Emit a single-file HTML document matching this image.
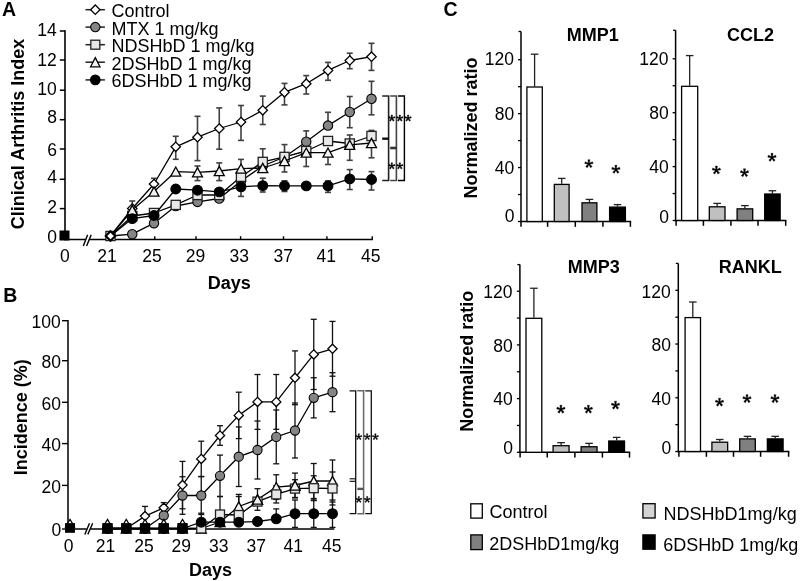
<!DOCTYPE html>
<html><head><meta charset="utf-8"><style>
html,body{margin:0;padding:0;background:#fff;}
svg{display:block;will-change:transform;}
text{font-family:"Liberation Sans", sans-serif;fill:#000;}
</style></head><body>
<svg width="800" height="581" viewBox="0 0 800 581">
<rect width="800" height="581" fill="#fff"/>
<text transform="translate(2.10,16.30)" font-size="19.5" font-weight="bold" text-anchor="start">A</text>
<line x1="65.00" y1="30.20" x2="65.00" y2="240.30" stroke="#000" stroke-width="1.6" stroke-linecap="butt"/>
<line x1="59.80" y1="31.00" x2="65.00" y2="31.00" stroke="#000" stroke-width="1.5" stroke-linecap="butt"/>
<text transform="translate(37.30,35.95)" font-size="17.5" font-weight="normal" text-anchor="start">14</text>
<line x1="59.80" y1="60.00" x2="65.00" y2="60.00" stroke="#000" stroke-width="1.5" stroke-linecap="butt"/>
<text transform="translate(37.30,66.00)" font-size="17.5" font-weight="normal" text-anchor="start">12</text>
<line x1="59.80" y1="90.20" x2="65.00" y2="90.20" stroke="#000" stroke-width="1.5" stroke-linecap="butt"/>
<text transform="translate(37.30,95.30)" font-size="17.5" font-weight="normal" text-anchor="start">10</text>
<line x1="59.80" y1="119.70" x2="65.00" y2="119.70" stroke="#000" stroke-width="1.5" stroke-linecap="butt"/>
<text transform="translate(47.30,123.45)" font-size="17.5" font-weight="normal" text-anchor="start">8</text>
<line x1="59.80" y1="149.00" x2="65.00" y2="149.00" stroke="#000" stroke-width="1.5" stroke-linecap="butt"/>
<text transform="translate(47.30,155.65)" font-size="17.5" font-weight="normal" text-anchor="start">6</text>
<line x1="59.80" y1="179.30" x2="65.00" y2="179.30" stroke="#000" stroke-width="1.5" stroke-linecap="butt"/>
<text transform="translate(47.30,182.80)" font-size="17.5" font-weight="normal" text-anchor="start">4</text>
<line x1="59.80" y1="208.60" x2="65.00" y2="208.60" stroke="#000" stroke-width="1.5" stroke-linecap="butt"/>
<text transform="translate(47.30,212.80)" font-size="17.5" font-weight="normal" text-anchor="start">2</text>
<line x1="59.80" y1="238.30" x2="65.00" y2="238.30" stroke="#000" stroke-width="1.5" stroke-linecap="butt"/>
<text transform="translate(47.30,243.10)" font-size="17.5" font-weight="normal" text-anchor="start">0</text>
<line x1="64.30" y1="239.50" x2="85.90" y2="239.50" stroke="#000" stroke-width="1.5" stroke-linecap="butt"/>
<line x1="88.90" y1="239.50" x2="372.80" y2="239.50" stroke="#000" stroke-width="1.5" stroke-linecap="butt"/>
<line x1="87.60" y1="234.70" x2="83.30" y2="246.00" stroke="#000" stroke-width="1.4" stroke-linecap="butt"/>
<line x1="91.20" y1="234.70" x2="86.60" y2="246.00" stroke="#000" stroke-width="1.4" stroke-linecap="butt"/>
<line x1="154.75" y1="236.20" x2="154.75" y2="239.50" stroke="#000" stroke-width="1.4" stroke-linecap="butt"/>
<line x1="196.00" y1="236.20" x2="196.00" y2="239.50" stroke="#000" stroke-width="1.4" stroke-linecap="butt"/>
<line x1="240.60" y1="236.20" x2="240.60" y2="239.50" stroke="#000" stroke-width="1.4" stroke-linecap="butt"/>
<line x1="283.50" y1="236.20" x2="283.50" y2="239.50" stroke="#000" stroke-width="1.4" stroke-linecap="butt"/>
<line x1="326.90" y1="236.20" x2="326.90" y2="239.50" stroke="#000" stroke-width="1.4" stroke-linecap="butt"/>
<line x1="372.25" y1="236.20" x2="372.25" y2="239.50" stroke="#000" stroke-width="1.4" stroke-linecap="butt"/>
<text transform="translate(59.90,261.70)" font-size="17.5" font-weight="normal" text-anchor="start">0</text>
<text transform="translate(97.25,261.70)" font-size="17.5" font-weight="normal" text-anchor="start">21</text>
<text transform="translate(142.30,261.70)" font-size="17.5" font-weight="normal" text-anchor="start">25</text>
<text transform="translate(185.80,261.70)" font-size="17.5" font-weight="normal" text-anchor="start">29</text>
<text transform="translate(229.50,261.70)" font-size="17.5" font-weight="normal" text-anchor="start">33</text>
<text transform="translate(273.40,261.70)" font-size="17.5" font-weight="normal" text-anchor="start">37</text>
<text transform="translate(316.55,261.70)" font-size="17.5" font-weight="normal" text-anchor="start">41</text>
<text transform="translate(361.10,261.70)" font-size="17.5" font-weight="normal" text-anchor="start">45</text>
<text transform="translate(207.80,288.70)" font-size="18" font-weight="bold" text-anchor="start">Days</text>
<text transform="translate(24.30,229.20) rotate(-90)" font-size="18" font-weight="bold" text-anchor="start">Clinical Arthritis Index</text>
<polyline points="110.50,236.00 132.25,234.20 154.00,223.20 175.75,206.00 197.50,201.90 219.25,198.50 241.00,181.00 262.75,166.00 284.50,157.00 306.25,141.70 328.00,125.60 349.75,112.00 371.50,98.80" stroke="#000" stroke-width="1.3" fill="none" stroke-linejoin="round" />
<line x1="306.25" y1="130.90" x2="306.25" y2="141.70" stroke="#404040" stroke-width="1.6" stroke-linecap="butt"/>
<line x1="303.25" y1="130.90" x2="309.25" y2="130.90" stroke="#404040" stroke-width="1.6" stroke-linecap="butt"/>
<line x1="303.25" y1="141.70" x2="309.25" y2="141.70" stroke="#404040" stroke-width="1.6" stroke-linecap="butt"/>
<line x1="328.00" y1="112.30" x2="328.00" y2="125.60" stroke="#404040" stroke-width="1.6" stroke-linecap="butt"/>
<line x1="325.00" y1="112.30" x2="331.00" y2="112.30" stroke="#404040" stroke-width="1.6" stroke-linecap="butt"/>
<line x1="325.00" y1="125.60" x2="331.00" y2="125.60" stroke="#404040" stroke-width="1.6" stroke-linecap="butt"/>
<line x1="349.75" y1="96.50" x2="349.75" y2="127.70" stroke="#404040" stroke-width="1.6" stroke-linecap="butt"/>
<line x1="346.75" y1="96.50" x2="352.75" y2="96.50" stroke="#404040" stroke-width="1.6" stroke-linecap="butt"/>
<line x1="346.75" y1="127.70" x2="352.75" y2="127.70" stroke="#404040" stroke-width="1.6" stroke-linecap="butt"/>
<line x1="371.50" y1="81.30" x2="371.50" y2="114.80" stroke="#404040" stroke-width="1.6" stroke-linecap="butt"/>
<line x1="368.50" y1="81.30" x2="374.50" y2="81.30" stroke="#404040" stroke-width="1.6" stroke-linecap="butt"/>
<line x1="368.50" y1="114.80" x2="374.50" y2="114.80" stroke="#404040" stroke-width="1.6" stroke-linecap="butt"/>
<circle cx="132.25" cy="234.20" r="4.7" fill="#858585" stroke="#000" stroke-width="1.1"/>
<circle cx="154.00" cy="223.20" r="4.7" fill="#858585" stroke="#000" stroke-width="1.1"/>
<circle cx="175.75" cy="206.00" r="4.7" fill="#858585" stroke="#000" stroke-width="1.1"/>
<circle cx="197.50" cy="201.90" r="4.7" fill="#858585" stroke="#000" stroke-width="1.1"/>
<circle cx="219.25" cy="198.50" r="4.7" fill="#858585" stroke="#000" stroke-width="1.1"/>
<circle cx="241.00" cy="181.00" r="4.7" fill="#858585" stroke="#000" stroke-width="1.1"/>
<circle cx="262.75" cy="166.00" r="4.7" fill="#858585" stroke="#000" stroke-width="1.1"/>
<circle cx="284.50" cy="157.00" r="4.7" fill="#858585" stroke="#000" stroke-width="1.1"/>
<circle cx="306.25" cy="141.70" r="4.7" fill="#858585" stroke="#000" stroke-width="1.1"/>
<circle cx="328.00" cy="125.60" r="4.7" fill="#858585" stroke="#000" stroke-width="1.1"/>
<circle cx="349.75" cy="112.00" r="4.7" fill="#858585" stroke="#000" stroke-width="1.1"/>
<circle cx="371.50" cy="98.80" r="4.7" fill="#858585" stroke="#000" stroke-width="1.1"/>
<polyline points="110.50,236.00 132.25,216.00 154.00,213.00 175.75,204.90 197.50,195.00 219.25,195.00 241.00,176.80 262.75,161.90 284.50,156.90 306.25,151.00 328.00,141.00 349.75,143.50 371.50,136.00" stroke="#000" stroke-width="1.3" fill="none" stroke-linejoin="round" />
<line x1="262.75" y1="148.80" x2="262.75" y2="161.90" stroke="#404040" stroke-width="1.6" stroke-linecap="butt"/>
<line x1="259.75" y1="148.80" x2="265.75" y2="148.80" stroke="#404040" stroke-width="1.6" stroke-linecap="butt"/>
<line x1="259.75" y1="161.90" x2="265.75" y2="161.90" stroke="#404040" stroke-width="1.6" stroke-linecap="butt"/>
<line x1="284.50" y1="144.60" x2="284.50" y2="156.90" stroke="#404040" stroke-width="1.6" stroke-linecap="butt"/>
<line x1="281.50" y1="144.60" x2="287.50" y2="144.60" stroke="#404040" stroke-width="1.6" stroke-linecap="butt"/>
<line x1="281.50" y1="156.90" x2="287.50" y2="156.90" stroke="#404040" stroke-width="1.6" stroke-linecap="butt"/>
<line x1="349.75" y1="135.00" x2="349.75" y2="143.50" stroke="#404040" stroke-width="1.6" stroke-linecap="butt"/>
<line x1="346.75" y1="135.00" x2="352.75" y2="135.00" stroke="#404040" stroke-width="1.6" stroke-linecap="butt"/>
<line x1="346.75" y1="143.50" x2="352.75" y2="143.50" stroke="#404040" stroke-width="1.6" stroke-linecap="butt"/>
<line x1="371.50" y1="130.40" x2="371.50" y2="136.00" stroke="#404040" stroke-width="1.6" stroke-linecap="butt"/>
<line x1="368.50" y1="130.40" x2="374.50" y2="130.40" stroke="#404040" stroke-width="1.6" stroke-linecap="butt"/>
<line x1="368.50" y1="136.00" x2="374.50" y2="136.00" stroke="#404040" stroke-width="1.6" stroke-linecap="butt"/>
<rect x="105.90" y="231.40" width="9.20" height="9.20" fill="#e8e8e8" stroke="#222" stroke-width="1.3"/>
<rect x="127.65" y="211.40" width="9.20" height="9.20" fill="#e8e8e8" stroke="#222" stroke-width="1.3"/>
<rect x="149.40" y="208.40" width="9.20" height="9.20" fill="#e8e8e8" stroke="#222" stroke-width="1.3"/>
<rect x="171.15" y="200.30" width="9.20" height="9.20" fill="#e8e8e8" stroke="#222" stroke-width="1.3"/>
<rect x="192.90" y="190.40" width="9.20" height="9.20" fill="#e8e8e8" stroke="#222" stroke-width="1.3"/>
<rect x="214.65" y="190.40" width="9.20" height="9.20" fill="#e8e8e8" stroke="#222" stroke-width="1.3"/>
<rect x="236.40" y="172.20" width="9.20" height="9.20" fill="#e8e8e8" stroke="#222" stroke-width="1.3"/>
<rect x="258.15" y="157.30" width="9.20" height="9.20" fill="#e8e8e8" stroke="#222" stroke-width="1.3"/>
<rect x="279.90" y="152.30" width="9.20" height="9.20" fill="#e8e8e8" stroke="#222" stroke-width="1.3"/>
<rect x="301.65" y="146.40" width="9.20" height="9.20" fill="#e8e8e8" stroke="#222" stroke-width="1.3"/>
<rect x="323.40" y="136.40" width="9.20" height="9.20" fill="#e8e8e8" stroke="#222" stroke-width="1.3"/>
<rect x="345.15" y="138.90" width="9.20" height="9.20" fill="#e8e8e8" stroke="#222" stroke-width="1.3"/>
<rect x="366.90" y="131.40" width="9.20" height="9.20" fill="#e8e8e8" stroke="#222" stroke-width="1.3"/>
<polyline points="110.50,236.00 132.25,208.50 154.00,184.00 175.75,146.80 197.50,137.20 219.25,128.50 241.00,122.00 262.75,110.30 284.50,92.30 306.25,83.70 328.00,70.40 349.75,60.50 371.50,56.70" stroke="#000" stroke-width="1.3" fill="none" stroke-linejoin="round" />
<line x1="132.25" y1="201.00" x2="132.25" y2="208.50" stroke="#404040" stroke-width="1.6" stroke-linecap="butt"/>
<line x1="129.25" y1="201.00" x2="135.25" y2="201.00" stroke="#404040" stroke-width="1.6" stroke-linecap="butt"/>
<line x1="129.25" y1="208.50" x2="135.25" y2="208.50" stroke="#404040" stroke-width="1.6" stroke-linecap="butt"/>
<line x1="154.00" y1="178.30" x2="154.00" y2="184.00" stroke="#404040" stroke-width="1.6" stroke-linecap="butt"/>
<line x1="151.00" y1="178.30" x2="157.00" y2="178.30" stroke="#404040" stroke-width="1.6" stroke-linecap="butt"/>
<line x1="151.00" y1="184.00" x2="157.00" y2="184.00" stroke="#404040" stroke-width="1.6" stroke-linecap="butt"/>
<line x1="175.75" y1="136.30" x2="175.75" y2="159.30" stroke="#404040" stroke-width="1.6" stroke-linecap="butt"/>
<line x1="172.75" y1="136.30" x2="178.75" y2="136.30" stroke="#404040" stroke-width="1.6" stroke-linecap="butt"/>
<line x1="172.75" y1="159.30" x2="178.75" y2="159.30" stroke="#404040" stroke-width="1.6" stroke-linecap="butt"/>
<line x1="197.50" y1="116.30" x2="197.50" y2="160.60" stroke="#404040" stroke-width="1.6" stroke-linecap="butt"/>
<line x1="194.50" y1="116.30" x2="200.50" y2="116.30" stroke="#404040" stroke-width="1.6" stroke-linecap="butt"/>
<line x1="194.50" y1="160.60" x2="200.50" y2="160.60" stroke="#404040" stroke-width="1.6" stroke-linecap="butt"/>
<line x1="219.25" y1="107.90" x2="219.25" y2="149.20" stroke="#404040" stroke-width="1.6" stroke-linecap="butt"/>
<line x1="216.25" y1="107.90" x2="222.25" y2="107.90" stroke="#404040" stroke-width="1.6" stroke-linecap="butt"/>
<line x1="216.25" y1="149.20" x2="222.25" y2="149.20" stroke="#404040" stroke-width="1.6" stroke-linecap="butt"/>
<line x1="241.00" y1="105.50" x2="241.00" y2="140.40" stroke="#404040" stroke-width="1.6" stroke-linecap="butt"/>
<line x1="238.00" y1="105.50" x2="244.00" y2="105.50" stroke="#404040" stroke-width="1.6" stroke-linecap="butt"/>
<line x1="238.00" y1="140.40" x2="244.00" y2="140.40" stroke="#404040" stroke-width="1.6" stroke-linecap="butt"/>
<line x1="262.75" y1="96.10" x2="262.75" y2="124.50" stroke="#404040" stroke-width="1.6" stroke-linecap="butt"/>
<line x1="259.75" y1="96.10" x2="265.75" y2="96.10" stroke="#404040" stroke-width="1.6" stroke-linecap="butt"/>
<line x1="259.75" y1="124.50" x2="265.75" y2="124.50" stroke="#404040" stroke-width="1.6" stroke-linecap="butt"/>
<line x1="284.50" y1="83.40" x2="284.50" y2="104.90" stroke="#404040" stroke-width="1.6" stroke-linecap="butt"/>
<line x1="281.50" y1="83.40" x2="287.50" y2="83.40" stroke="#404040" stroke-width="1.6" stroke-linecap="butt"/>
<line x1="281.50" y1="104.90" x2="287.50" y2="104.90" stroke="#404040" stroke-width="1.6" stroke-linecap="butt"/>
<line x1="306.25" y1="75.60" x2="306.25" y2="94.00" stroke="#404040" stroke-width="1.6" stroke-linecap="butt"/>
<line x1="303.25" y1="75.60" x2="309.25" y2="75.60" stroke="#404040" stroke-width="1.6" stroke-linecap="butt"/>
<line x1="303.25" y1="94.00" x2="309.25" y2="94.00" stroke="#404040" stroke-width="1.6" stroke-linecap="butt"/>
<line x1="328.00" y1="62.40" x2="328.00" y2="80.30" stroke="#404040" stroke-width="1.6" stroke-linecap="butt"/>
<line x1="325.00" y1="62.40" x2="331.00" y2="62.40" stroke="#404040" stroke-width="1.6" stroke-linecap="butt"/>
<line x1="325.00" y1="80.30" x2="331.00" y2="80.30" stroke="#404040" stroke-width="1.6" stroke-linecap="butt"/>
<line x1="349.75" y1="53.20" x2="349.75" y2="68.70" stroke="#404040" stroke-width="1.6" stroke-linecap="butt"/>
<line x1="346.75" y1="53.20" x2="352.75" y2="53.20" stroke="#404040" stroke-width="1.6" stroke-linecap="butt"/>
<line x1="346.75" y1="68.70" x2="352.75" y2="68.70" stroke="#404040" stroke-width="1.6" stroke-linecap="butt"/>
<line x1="371.50" y1="43.30" x2="371.50" y2="70.40" stroke="#404040" stroke-width="1.6" stroke-linecap="butt"/>
<line x1="368.50" y1="43.30" x2="374.50" y2="43.30" stroke="#404040" stroke-width="1.6" stroke-linecap="butt"/>
<line x1="368.50" y1="70.40" x2="374.50" y2="70.40" stroke="#404040" stroke-width="1.6" stroke-linecap="butt"/>
<polygon points="132.25,203.80 136.95,208.50 132.25,213.20 127.55,208.50" fill="#fff" stroke="#000" stroke-width="1.3"/>
<polygon points="154.00,179.30 158.70,184.00 154.00,188.70 149.30,184.00" fill="#fff" stroke="#000" stroke-width="1.3"/>
<polygon points="175.75,142.10 180.45,146.80 175.75,151.50 171.05,146.80" fill="#fff" stroke="#000" stroke-width="1.3"/>
<polygon points="197.50,132.50 202.20,137.20 197.50,141.90 192.80,137.20" fill="#fff" stroke="#000" stroke-width="1.3"/>
<polygon points="219.25,123.80 223.95,128.50 219.25,133.20 214.55,128.50" fill="#fff" stroke="#000" stroke-width="1.3"/>
<polygon points="241.00,117.30 245.70,122.00 241.00,126.70 236.30,122.00" fill="#fff" stroke="#000" stroke-width="1.3"/>
<polygon points="262.75,105.60 267.45,110.30 262.75,115.00 258.05,110.30" fill="#fff" stroke="#000" stroke-width="1.3"/>
<polygon points="284.50,87.60 289.20,92.30 284.50,97.00 279.80,92.30" fill="#fff" stroke="#000" stroke-width="1.3"/>
<polygon points="306.25,79.00 310.95,83.70 306.25,88.40 301.55,83.70" fill="#fff" stroke="#000" stroke-width="1.3"/>
<polygon points="328.00,65.70 332.70,70.40 328.00,75.10 323.30,70.40" fill="#fff" stroke="#000" stroke-width="1.3"/>
<polygon points="349.75,55.80 354.45,60.50 349.75,65.20 345.05,60.50" fill="#fff" stroke="#000" stroke-width="1.3"/>
<polygon points="371.50,52.00 376.20,56.70 371.50,61.40 366.80,56.70" fill="#fff" stroke="#000" stroke-width="1.3"/>
<polyline points="110.50,236.00 132.25,210.00 154.00,191.50 175.75,171.60 197.50,172.30 219.25,171.00 241.00,168.60 262.75,168.00 284.50,161.00 306.25,152.60 328.00,152.60 349.75,144.80 371.50,143.00" stroke="#000" stroke-width="1.3" fill="none" stroke-linejoin="round" />
<line x1="197.50" y1="166.00" x2="197.50" y2="180.60" stroke="#404040" stroke-width="1.6" stroke-linecap="butt"/>
<line x1="194.50" y1="166.00" x2="200.50" y2="166.00" stroke="#404040" stroke-width="1.6" stroke-linecap="butt"/>
<line x1="194.50" y1="180.60" x2="200.50" y2="180.60" stroke="#404040" stroke-width="1.6" stroke-linecap="butt"/>
<line x1="219.25" y1="162.90" x2="219.25" y2="180.60" stroke="#404040" stroke-width="1.6" stroke-linecap="butt"/>
<line x1="216.25" y1="162.90" x2="222.25" y2="162.90" stroke="#404040" stroke-width="1.6" stroke-linecap="butt"/>
<line x1="216.25" y1="180.60" x2="222.25" y2="180.60" stroke="#404040" stroke-width="1.6" stroke-linecap="butt"/>
<line x1="241.00" y1="159.40" x2="241.00" y2="168.60" stroke="#404040" stroke-width="1.6" stroke-linecap="butt"/>
<line x1="238.00" y1="159.40" x2="244.00" y2="159.40" stroke="#404040" stroke-width="1.6" stroke-linecap="butt"/>
<line x1="238.00" y1="168.60" x2="244.00" y2="168.60" stroke="#404040" stroke-width="1.6" stroke-linecap="butt"/>
<line x1="284.50" y1="161.00" x2="284.50" y2="172.00" stroke="#404040" stroke-width="1.6" stroke-linecap="butt"/>
<line x1="281.50" y1="161.00" x2="287.50" y2="161.00" stroke="#404040" stroke-width="1.6" stroke-linecap="butt"/>
<line x1="281.50" y1="172.00" x2="287.50" y2="172.00" stroke="#404040" stroke-width="1.6" stroke-linecap="butt"/>
<line x1="306.25" y1="152.60" x2="306.25" y2="166.50" stroke="#404040" stroke-width="1.6" stroke-linecap="butt"/>
<line x1="303.25" y1="152.60" x2="309.25" y2="152.60" stroke="#404040" stroke-width="1.6" stroke-linecap="butt"/>
<line x1="303.25" y1="166.50" x2="309.25" y2="166.50" stroke="#404040" stroke-width="1.6" stroke-linecap="butt"/>
<line x1="328.00" y1="152.60" x2="328.00" y2="164.50" stroke="#404040" stroke-width="1.6" stroke-linecap="butt"/>
<line x1="325.00" y1="152.60" x2="331.00" y2="152.60" stroke="#404040" stroke-width="1.6" stroke-linecap="butt"/>
<line x1="325.00" y1="164.50" x2="331.00" y2="164.50" stroke="#404040" stroke-width="1.6" stroke-linecap="butt"/>
<line x1="349.75" y1="144.80" x2="349.75" y2="160.30" stroke="#404040" stroke-width="1.6" stroke-linecap="butt"/>
<line x1="346.75" y1="144.80" x2="352.75" y2="144.80" stroke="#404040" stroke-width="1.6" stroke-linecap="butt"/>
<line x1="346.75" y1="160.30" x2="352.75" y2="160.30" stroke="#404040" stroke-width="1.6" stroke-linecap="butt"/>
<line x1="371.50" y1="143.00" x2="371.50" y2="157.80" stroke="#404040" stroke-width="1.6" stroke-linecap="butt"/>
<line x1="368.50" y1="143.00" x2="374.50" y2="143.00" stroke="#404040" stroke-width="1.6" stroke-linecap="butt"/>
<line x1="368.50" y1="157.80" x2="374.50" y2="157.80" stroke="#404040" stroke-width="1.6" stroke-linecap="butt"/>
<polygon points="132.25,205.40 137.25,214.60 127.25,214.60" fill="#f2f2f2" stroke="#000" stroke-width="1.3" stroke-linejoin="miter"/>
<polygon points="154.00,186.90 159.00,196.10 149.00,196.10" fill="#f2f2f2" stroke="#000" stroke-width="1.3" stroke-linejoin="miter"/>
<polygon points="175.75,167.00 180.75,176.20 170.75,176.20" fill="#f2f2f2" stroke="#000" stroke-width="1.3" stroke-linejoin="miter"/>
<polygon points="197.50,167.70 202.50,176.90 192.50,176.90" fill="#f2f2f2" stroke="#000" stroke-width="1.3" stroke-linejoin="miter"/>
<polygon points="219.25,166.40 224.25,175.60 214.25,175.60" fill="#f2f2f2" stroke="#000" stroke-width="1.3" stroke-linejoin="miter"/>
<polygon points="241.00,164.00 246.00,173.20 236.00,173.20" fill="#f2f2f2" stroke="#000" stroke-width="1.3" stroke-linejoin="miter"/>
<polygon points="262.75,163.40 267.75,172.60 257.75,172.60" fill="#f2f2f2" stroke="#000" stroke-width="1.3" stroke-linejoin="miter"/>
<polygon points="284.50,156.40 289.50,165.60 279.50,165.60" fill="#f2f2f2" stroke="#000" stroke-width="1.3" stroke-linejoin="miter"/>
<polygon points="306.25,148.00 311.25,157.20 301.25,157.20" fill="#f2f2f2" stroke="#000" stroke-width="1.3" stroke-linejoin="miter"/>
<polygon points="328.00,148.00 333.00,157.20 323.00,157.20" fill="#f2f2f2" stroke="#000" stroke-width="1.3" stroke-linejoin="miter"/>
<polygon points="349.75,140.20 354.75,149.40 344.75,149.40" fill="#f2f2f2" stroke="#000" stroke-width="1.3" stroke-linejoin="miter"/>
<polygon points="371.50,138.40 376.50,147.60 366.50,147.60" fill="#f2f2f2" stroke="#000" stroke-width="1.3" stroke-linejoin="miter"/>
<polyline points="110.50,236.00 132.25,218.60 154.00,215.50 175.75,189.00 197.50,190.20 219.25,191.90 241.00,186.80 262.75,185.60 284.50,185.90 306.25,185.90 328.00,185.90 349.75,178.90 371.50,179.50" stroke="#000" stroke-width="1.3" fill="none" stroke-linejoin="round" />
<line x1="241.00" y1="186.80" x2="241.00" y2="196.40" stroke="#404040" stroke-width="1.6" stroke-linecap="butt"/>
<line x1="238.00" y1="186.80" x2="244.00" y2="186.80" stroke="#404040" stroke-width="1.6" stroke-linecap="butt"/>
<line x1="238.00" y1="196.40" x2="244.00" y2="196.40" stroke="#404040" stroke-width="1.6" stroke-linecap="butt"/>
<line x1="262.75" y1="178.20" x2="262.75" y2="192.00" stroke="#404040" stroke-width="1.6" stroke-linecap="butt"/>
<line x1="259.75" y1="178.20" x2="265.75" y2="178.20" stroke="#404040" stroke-width="1.6" stroke-linecap="butt"/>
<line x1="259.75" y1="192.00" x2="265.75" y2="192.00" stroke="#404040" stroke-width="1.6" stroke-linecap="butt"/>
<line x1="284.50" y1="180.80" x2="284.50" y2="191.50" stroke="#404040" stroke-width="1.6" stroke-linecap="butt"/>
<line x1="281.50" y1="180.80" x2="287.50" y2="180.80" stroke="#404040" stroke-width="1.6" stroke-linecap="butt"/>
<line x1="281.50" y1="191.50" x2="287.50" y2="191.50" stroke="#404040" stroke-width="1.6" stroke-linecap="butt"/>
<line x1="328.00" y1="180.80" x2="328.00" y2="192.40" stroke="#404040" stroke-width="1.6" stroke-linecap="butt"/>
<line x1="325.00" y1="180.80" x2="331.00" y2="180.80" stroke="#404040" stroke-width="1.6" stroke-linecap="butt"/>
<line x1="325.00" y1="192.40" x2="331.00" y2="192.40" stroke="#404040" stroke-width="1.6" stroke-linecap="butt"/>
<line x1="349.75" y1="169.60" x2="349.75" y2="189.50" stroke="#404040" stroke-width="1.6" stroke-linecap="butt"/>
<line x1="346.75" y1="169.60" x2="352.75" y2="169.60" stroke="#404040" stroke-width="1.6" stroke-linecap="butt"/>
<line x1="346.75" y1="189.50" x2="352.75" y2="189.50" stroke="#404040" stroke-width="1.6" stroke-linecap="butt"/>
<line x1="371.50" y1="171.60" x2="371.50" y2="190.00" stroke="#404040" stroke-width="1.6" stroke-linecap="butt"/>
<line x1="368.50" y1="171.60" x2="374.50" y2="171.60" stroke="#404040" stroke-width="1.6" stroke-linecap="butt"/>
<line x1="368.50" y1="190.00" x2="374.50" y2="190.00" stroke="#404040" stroke-width="1.6" stroke-linecap="butt"/>
<circle cx="132.25" cy="218.60" r="4.9" fill="#000" stroke="#000" stroke-width="1.1"/>
<circle cx="154.00" cy="215.50" r="4.9" fill="#000" stroke="#000" stroke-width="1.1"/>
<circle cx="175.75" cy="189.00" r="4.9" fill="#000" stroke="#000" stroke-width="1.1"/>
<circle cx="197.50" cy="190.20" r="4.9" fill="#000" stroke="#000" stroke-width="1.1"/>
<circle cx="219.25" cy="191.90" r="4.9" fill="#000" stroke="#000" stroke-width="1.1"/>
<circle cx="241.00" cy="186.80" r="4.9" fill="#000" stroke="#000" stroke-width="1.1"/>
<circle cx="262.75" cy="185.60" r="4.9" fill="#000" stroke="#000" stroke-width="1.1"/>
<circle cx="284.50" cy="185.90" r="4.9" fill="#000" stroke="#000" stroke-width="1.1"/>
<circle cx="306.25" cy="185.90" r="4.9" fill="#000" stroke="#000" stroke-width="1.1"/>
<circle cx="328.00" cy="185.90" r="4.9" fill="#000" stroke="#000" stroke-width="1.1"/>
<circle cx="349.75" cy="178.90" r="4.9" fill="#000" stroke="#000" stroke-width="1.1"/>
<circle cx="371.50" cy="179.50" r="4.9" fill="#000" stroke="#000" stroke-width="1.1"/>
<polygon points="110.50,231.20 115.30,236.00 110.50,240.80 105.70,236.00" fill="#fff" stroke="#000" stroke-width="2.0"/>
<rect x="59.5" y="230.5" width="10" height="10" fill="#000"/>
<polyline points="382.20,96.00 388.60,96.00 388.60,180.50 382.20,180.50" fill="none" stroke="#222" stroke-width="1.6" stroke-linejoin="miter"/>
<polyline points="390.20,96.00 396.40,96.00 396.40,180.50 390.20,180.50" fill="none" stroke="#444" stroke-width="1.6" stroke-linejoin="miter"/>
<polyline points="398.00,96.00 404.40,96.00 404.40,180.50 398.00,180.50" fill="none" stroke="#000" stroke-width="1.4" stroke-linejoin="miter"/>
<line x1="382.20" y1="138.70" x2="388.60" y2="138.70" stroke="#111" stroke-width="2.4" stroke-linecap="butt"/>
<line x1="390.20" y1="148.00" x2="396.40" y2="148.00" stroke="#333" stroke-width="2.6" stroke-linecap="butt"/>
<path d="M392.11,118.22L392.55,115.05L391.05,115.05L391.49,118.22ZM391.90,118.52L395.05,117.96L394.59,116.53L391.70,117.93ZM391.90,117.93L389.01,116.53L388.55,117.96L391.70,118.52ZM391.55,118.41L393.06,121.23L394.27,120.35L392.05,118.04ZM391.55,118.04L389.33,120.35L390.54,121.23L392.05,118.41Z" fill="#000" stroke="#000" stroke-width="0.4" stroke-linejoin="round"/>
<path d="M400.11,118.22L400.55,115.05L399.05,115.05L399.49,118.22ZM399.90,118.52L403.05,117.96L402.59,116.53L399.70,117.93ZM399.90,117.93L397.01,116.53L396.55,117.96L399.70,118.52ZM399.55,118.41L401.06,121.23L402.27,120.35L400.05,118.04ZM399.55,118.04L397.33,120.35L398.54,121.23L400.05,118.41Z" fill="#000" stroke="#000" stroke-width="0.4" stroke-linejoin="round"/>
<path d="M408.41,118.22L408.85,115.05L407.35,115.05L407.79,118.22ZM408.20,118.52L411.35,117.96L410.89,116.53L408.00,117.93ZM408.20,117.93L405.31,116.53L404.85,117.96L408.00,118.52ZM407.85,118.41L409.36,121.23L410.57,120.35L408.35,118.04ZM407.85,118.04L405.63,120.35L406.84,121.23L408.35,118.41Z" fill="#000" stroke="#000" stroke-width="0.4" stroke-linejoin="round"/>
<path d="M392.11,166.02L392.55,162.85L391.05,162.85L391.49,166.02ZM391.90,166.32L395.05,165.76L394.59,164.33L391.70,165.73ZM391.90,165.73L389.01,164.33L388.55,165.76L391.70,166.32ZM391.55,166.21L393.06,169.03L394.27,168.15L392.05,165.84ZM391.55,165.84L389.33,168.15L390.54,169.03L392.05,166.21Z" fill="#000" stroke="#000" stroke-width="0.4" stroke-linejoin="round"/>
<path d="M400.11,166.02L400.55,162.85L399.05,162.85L399.49,166.02ZM399.90,166.32L403.05,165.76L402.59,164.33L399.70,165.73ZM399.90,165.73L397.01,164.33L396.55,165.76L399.70,166.32ZM399.55,166.21L401.06,169.03L402.27,168.15L400.05,165.84ZM399.55,165.84L397.33,168.15L398.54,169.03L400.05,166.21Z" fill="#000" stroke="#000" stroke-width="0.4" stroke-linejoin="round"/>
<line x1="85.50" y1="9.70" x2="104.90" y2="9.70" stroke="#222" stroke-width="1.5" stroke-linecap="butt"/>
<polygon points="95.30,5.00 100.00,9.70 95.30,14.40 90.60,9.70" fill="#fff" stroke="#000" stroke-width="1.3"/>
<text transform="translate(111.50,16.80)" font-size="18" font-weight="normal" text-anchor="start">Control</text>
<line x1="85.50" y1="27.10" x2="104.90" y2="27.10" stroke="#222" stroke-width="1.5" stroke-linecap="butt"/>
<circle cx="95.30" cy="27.10" r="4.7" fill="#858585" stroke="#000" stroke-width="1.1"/>
<text transform="translate(111.50,34.60)" font-size="18" font-weight="normal" text-anchor="start">MTX 1 mg/kg</text>
<line x1="85.50" y1="44.70" x2="104.90" y2="44.70" stroke="#222" stroke-width="1.5" stroke-linecap="butt"/>
<rect x="90.80" y="40.20" width="9.00" height="9.00" fill="#e8e8e8" stroke="#222" stroke-width="1.3"/>
<text transform="translate(111.50,52.20)" font-size="18" font-weight="normal" text-anchor="start">NDSHbD 1 mg/kg</text>
<line x1="85.50" y1="62.20" x2="104.90" y2="62.20" stroke="#222" stroke-width="1.5" stroke-linecap="butt"/>
<polygon points="95.30,57.60 100.00,66.80 90.60,66.80" fill="#f2f2f2" stroke="#000" stroke-width="1.3" stroke-linejoin="miter"/>
<text transform="translate(111.50,69.70)" font-size="18" font-weight="normal" text-anchor="start">2DSHbD 1 mg/kg</text>
<line x1="85.50" y1="79.90" x2="104.90" y2="79.90" stroke="#222" stroke-width="1.5" stroke-linecap="butt"/>
<circle cx="95.30" cy="79.90" r="4.8" fill="#000" stroke="#000" stroke-width="1.1"/>
<text transform="translate(111.50,87.40)" font-size="18" font-weight="normal" text-anchor="start">6DSHbD 1 mg/kg</text>
<text transform="translate(3.30,302.20)" font-size="19.5" font-weight="bold" text-anchor="start">B</text>
<line x1="68.00" y1="320.00" x2="68.00" y2="529.80" stroke="#000" stroke-width="1.5" stroke-linecap="butt"/>
<line x1="62.00" y1="320.70" x2="68.00" y2="320.70" stroke="#000" stroke-width="1.4" stroke-linecap="butt"/>
<text transform="translate(31.50,327.90)" font-size="17.5" font-weight="normal" text-anchor="start">100</text>
<line x1="62.00" y1="360.70" x2="68.00" y2="360.70" stroke="#000" stroke-width="1.4" stroke-linecap="butt"/>
<text transform="translate(41.50,368.10)" font-size="17.5" font-weight="normal" text-anchor="start">80</text>
<line x1="62.00" y1="402.30" x2="68.00" y2="402.30" stroke="#000" stroke-width="1.4" stroke-linecap="butt"/>
<text transform="translate(41.50,410.05)" font-size="17.5" font-weight="normal" text-anchor="start">60</text>
<line x1="62.00" y1="443.60" x2="68.00" y2="443.60" stroke="#000" stroke-width="1.4" stroke-linecap="butt"/>
<text transform="translate(41.50,451.30)" font-size="17.5" font-weight="normal" text-anchor="start">40</text>
<line x1="62.00" y1="485.40" x2="68.00" y2="485.40" stroke="#000" stroke-width="1.4" stroke-linecap="butt"/>
<text transform="translate(41.50,493.45)" font-size="17.5" font-weight="normal" text-anchor="start">20</text>
<line x1="62.00" y1="529.00" x2="68.00" y2="529.00" stroke="#000" stroke-width="1.4" stroke-linecap="butt"/>
<text transform="translate(51.50,535.55)" font-size="17.5" font-weight="normal" text-anchor="start">0</text>
<line x1="67.30" y1="529.00" x2="86.60" y2="529.00" stroke="#000" stroke-width="1.5" stroke-linecap="butt"/>
<line x1="90.40" y1="529.00" x2="334.30" y2="529.00" stroke="#000" stroke-width="1.5" stroke-linecap="butt"/>
<line x1="89.50" y1="523.20" x2="84.80" y2="534.40" stroke="#000" stroke-width="1.4" stroke-linecap="butt"/>
<line x1="92.70" y1="523.20" x2="87.80" y2="534.40" stroke="#000" stroke-width="1.4" stroke-linecap="butt"/>
<text transform="translate(63.75,551.65)" font-size="17.5" font-weight="normal" text-anchor="start">0</text>
<text transform="translate(95.70,551.65)" font-size="17.5" font-weight="normal" text-anchor="start">21</text>
<text transform="translate(134.30,551.65)" font-size="17.5" font-weight="normal" text-anchor="start">25</text>
<text transform="translate(171.50,551.65)" font-size="17.5" font-weight="normal" text-anchor="start">29</text>
<text transform="translate(209.10,551.65)" font-size="17.5" font-weight="normal" text-anchor="start">33</text>
<text transform="translate(246.50,551.65)" font-size="17.5" font-weight="normal" text-anchor="start">37</text>
<text transform="translate(283.60,551.65)" font-size="17.5" font-weight="normal" text-anchor="start">41</text>
<text transform="translate(321.95,551.65)" font-size="17.5" font-weight="normal" text-anchor="start">45</text>
<text transform="translate(188.90,575.90)" font-size="18" font-weight="bold" text-anchor="start">Days</text>
<text transform="translate(26.70,475.20) rotate(-90)" font-size="18" font-weight="bold" text-anchor="start">Incidence (%)</text>
<polyline points="107.50,528.50 126.25,528.50 145.00,516.10 163.75,507.80 182.50,485.10 201.25,458.90 220.00,435.50 238.75,415.40 257.50,401.90 276.25,401.90 295.00,377.80 313.75,354.40 332.50,348.80" stroke="#000" stroke-width="1.3" fill="none" stroke-linejoin="round" />
<polyline points="107.50,528.50 126.25,528.50 145.00,528.50 163.75,515.50 182.50,495.50 201.25,495.50 220.00,475.80 238.75,456.70 257.50,450.00 276.25,436.90 295.00,430.50 313.75,397.80 332.50,392.20" stroke="#000" stroke-width="1.3" fill="none" stroke-linejoin="round" />
<polyline points="107.50,528.50 126.25,528.50 145.00,528.50 163.75,528.50 182.50,528.50 201.25,528.50 220.00,522.00 238.75,506.50 257.50,499.50 276.25,487.10 295.00,485.50 313.75,481.00 332.50,481.00" stroke="#000" stroke-width="1.3" fill="none" stroke-linejoin="round" />
<polyline points="107.50,528.50 126.25,528.50 145.00,528.50 163.75,528.50 182.50,528.50 201.25,528.50 220.00,514.50 238.75,515.00 257.50,501.60 276.25,494.40 295.00,488.60 313.75,488.20 332.50,488.50" stroke="#000" stroke-width="1.3" fill="none" stroke-linejoin="round" />
<polyline points="107.50,528.50 126.25,528.50 145.00,528.50 163.75,528.50 182.50,528.50 201.25,522.20 220.00,522.20 238.75,522.20 257.50,521.50 276.25,518.80 295.00,513.70 313.75,513.70 332.50,513.70" stroke="#000" stroke-width="1.3" fill="none" stroke-linejoin="round" />
<line x1="145.00" y1="506.40" x2="145.00" y2="525.80" stroke="#111" stroke-width="1.3" stroke-linecap="butt"/>
<line x1="142.00" y1="506.40" x2="148.00" y2="506.40" stroke="#111" stroke-width="1.3" stroke-linecap="butt"/>
<line x1="142.00" y1="525.80" x2="148.00" y2="525.80" stroke="#111" stroke-width="1.3" stroke-linecap="butt"/>
<line x1="163.75" y1="502.60" x2="163.75" y2="513.00" stroke="#111" stroke-width="1.3" stroke-linecap="butt"/>
<line x1="160.75" y1="502.60" x2="166.75" y2="502.60" stroke="#111" stroke-width="1.3" stroke-linecap="butt"/>
<line x1="160.75" y1="513.00" x2="166.75" y2="513.00" stroke="#111" stroke-width="1.3" stroke-linecap="butt"/>
<line x1="182.50" y1="461.40" x2="182.50" y2="508.80" stroke="#111" stroke-width="1.3" stroke-linecap="butt"/>
<line x1="179.50" y1="461.40" x2="185.50" y2="461.40" stroke="#111" stroke-width="1.3" stroke-linecap="butt"/>
<line x1="179.50" y1="508.80" x2="185.50" y2="508.80" stroke="#111" stroke-width="1.3" stroke-linecap="butt"/>
<line x1="201.25" y1="441.20" x2="201.25" y2="476.60" stroke="#111" stroke-width="1.3" stroke-linecap="butt"/>
<line x1="198.25" y1="441.20" x2="204.25" y2="441.20" stroke="#111" stroke-width="1.3" stroke-linecap="butt"/>
<line x1="198.25" y1="476.60" x2="204.25" y2="476.60" stroke="#111" stroke-width="1.3" stroke-linecap="butt"/>
<line x1="220.00" y1="425.70" x2="220.00" y2="445.30" stroke="#111" stroke-width="1.3" stroke-linecap="butt"/>
<line x1="217.00" y1="425.70" x2="223.00" y2="425.70" stroke="#111" stroke-width="1.3" stroke-linecap="butt"/>
<line x1="217.00" y1="445.30" x2="223.00" y2="445.30" stroke="#111" stroke-width="1.3" stroke-linecap="butt"/>
<line x1="238.75" y1="392.20" x2="238.75" y2="438.60" stroke="#111" stroke-width="1.3" stroke-linecap="butt"/>
<line x1="235.75" y1="392.20" x2="241.75" y2="392.20" stroke="#111" stroke-width="1.3" stroke-linecap="butt"/>
<line x1="235.75" y1="438.60" x2="241.75" y2="438.60" stroke="#111" stroke-width="1.3" stroke-linecap="butt"/>
<line x1="257.50" y1="374.50" x2="257.50" y2="429.30" stroke="#111" stroke-width="1.3" stroke-linecap="butt"/>
<line x1="254.50" y1="374.50" x2="260.50" y2="374.50" stroke="#111" stroke-width="1.3" stroke-linecap="butt"/>
<line x1="254.50" y1="429.30" x2="260.50" y2="429.30" stroke="#111" stroke-width="1.3" stroke-linecap="butt"/>
<line x1="276.25" y1="374.50" x2="276.25" y2="429.30" stroke="#111" stroke-width="1.3" stroke-linecap="butt"/>
<line x1="273.25" y1="374.50" x2="279.25" y2="374.50" stroke="#111" stroke-width="1.3" stroke-linecap="butt"/>
<line x1="273.25" y1="429.30" x2="279.25" y2="429.30" stroke="#111" stroke-width="1.3" stroke-linecap="butt"/>
<line x1="295.00" y1="350.90" x2="295.00" y2="404.70" stroke="#111" stroke-width="1.3" stroke-linecap="butt"/>
<line x1="292.00" y1="350.90" x2="298.00" y2="350.90" stroke="#111" stroke-width="1.3" stroke-linecap="butt"/>
<line x1="292.00" y1="404.70" x2="298.00" y2="404.70" stroke="#111" stroke-width="1.3" stroke-linecap="butt"/>
<line x1="313.75" y1="319.30" x2="313.75" y2="389.50" stroke="#111" stroke-width="1.3" stroke-linecap="butt"/>
<line x1="310.75" y1="319.30" x2="316.75" y2="319.30" stroke="#111" stroke-width="1.3" stroke-linecap="butt"/>
<line x1="310.75" y1="389.50" x2="316.75" y2="389.50" stroke="#111" stroke-width="1.3" stroke-linecap="butt"/>
<line x1="332.50" y1="321.40" x2="332.50" y2="376.20" stroke="#111" stroke-width="1.3" stroke-linecap="butt"/>
<line x1="329.50" y1="321.40" x2="335.50" y2="321.40" stroke="#111" stroke-width="1.3" stroke-linecap="butt"/>
<line x1="329.50" y1="376.20" x2="335.50" y2="376.20" stroke="#111" stroke-width="1.3" stroke-linecap="butt"/>
<line x1="182.50" y1="476.70" x2="182.50" y2="514.30" stroke="#111" stroke-width="1.3" stroke-linecap="butt"/>
<line x1="179.50" y1="476.70" x2="185.50" y2="476.70" stroke="#111" stroke-width="1.3" stroke-linecap="butt"/>
<line x1="179.50" y1="514.30" x2="185.50" y2="514.30" stroke="#111" stroke-width="1.3" stroke-linecap="butt"/>
<line x1="201.25" y1="476.50" x2="201.25" y2="514.50" stroke="#111" stroke-width="1.3" stroke-linecap="butt"/>
<line x1="198.25" y1="476.50" x2="204.25" y2="476.50" stroke="#111" stroke-width="1.3" stroke-linecap="butt"/>
<line x1="198.25" y1="514.50" x2="204.25" y2="514.50" stroke="#111" stroke-width="1.3" stroke-linecap="butt"/>
<line x1="220.00" y1="455.10" x2="220.00" y2="496.50" stroke="#111" stroke-width="1.3" stroke-linecap="butt"/>
<line x1="217.00" y1="455.10" x2="223.00" y2="455.10" stroke="#111" stroke-width="1.3" stroke-linecap="butt"/>
<line x1="217.00" y1="496.50" x2="223.00" y2="496.50" stroke="#111" stroke-width="1.3" stroke-linecap="butt"/>
<line x1="238.75" y1="426.90" x2="238.75" y2="486.50" stroke="#111" stroke-width="1.3" stroke-linecap="butt"/>
<line x1="235.75" y1="426.90" x2="241.75" y2="426.90" stroke="#111" stroke-width="1.3" stroke-linecap="butt"/>
<line x1="235.75" y1="486.50" x2="241.75" y2="486.50" stroke="#111" stroke-width="1.3" stroke-linecap="butt"/>
<line x1="257.50" y1="421.00" x2="257.50" y2="479.00" stroke="#111" stroke-width="1.3" stroke-linecap="butt"/>
<line x1="254.50" y1="421.00" x2="260.50" y2="421.00" stroke="#111" stroke-width="1.3" stroke-linecap="butt"/>
<line x1="254.50" y1="479.00" x2="260.50" y2="479.00" stroke="#111" stroke-width="1.3" stroke-linecap="butt"/>
<line x1="276.25" y1="410.00" x2="276.25" y2="463.80" stroke="#111" stroke-width="1.3" stroke-linecap="butt"/>
<line x1="273.25" y1="410.00" x2="279.25" y2="410.00" stroke="#111" stroke-width="1.3" stroke-linecap="butt"/>
<line x1="273.25" y1="463.80" x2="279.25" y2="463.80" stroke="#111" stroke-width="1.3" stroke-linecap="butt"/>
<line x1="295.00" y1="403.00" x2="295.00" y2="458.00" stroke="#111" stroke-width="1.3" stroke-linecap="butt"/>
<line x1="292.00" y1="403.00" x2="298.00" y2="403.00" stroke="#111" stroke-width="1.3" stroke-linecap="butt"/>
<line x1="292.00" y1="458.00" x2="298.00" y2="458.00" stroke="#111" stroke-width="1.3" stroke-linecap="butt"/>
<line x1="313.75" y1="377.70" x2="313.75" y2="417.90" stroke="#111" stroke-width="1.3" stroke-linecap="butt"/>
<line x1="310.75" y1="377.70" x2="316.75" y2="377.70" stroke="#111" stroke-width="1.3" stroke-linecap="butt"/>
<line x1="310.75" y1="417.90" x2="316.75" y2="417.90" stroke="#111" stroke-width="1.3" stroke-linecap="butt"/>
<line x1="332.50" y1="372.70" x2="332.50" y2="411.70" stroke="#111" stroke-width="1.3" stroke-linecap="butt"/>
<line x1="329.50" y1="372.70" x2="335.50" y2="372.70" stroke="#111" stroke-width="1.3" stroke-linecap="butt"/>
<line x1="329.50" y1="411.70" x2="335.50" y2="411.70" stroke="#111" stroke-width="1.3" stroke-linecap="butt"/>
<line x1="238.75" y1="494.40" x2="238.75" y2="518.60" stroke="#111" stroke-width="1.3" stroke-linecap="butt"/>
<line x1="235.75" y1="494.40" x2="241.75" y2="494.40" stroke="#111" stroke-width="1.3" stroke-linecap="butt"/>
<line x1="235.75" y1="518.60" x2="241.75" y2="518.60" stroke="#111" stroke-width="1.3" stroke-linecap="butt"/>
<line x1="257.50" y1="488.70" x2="257.50" y2="510.30" stroke="#111" stroke-width="1.3" stroke-linecap="butt"/>
<line x1="254.50" y1="488.70" x2="260.50" y2="488.70" stroke="#111" stroke-width="1.3" stroke-linecap="butt"/>
<line x1="254.50" y1="510.30" x2="260.50" y2="510.30" stroke="#111" stroke-width="1.3" stroke-linecap="butt"/>
<line x1="276.25" y1="474.75" x2="276.25" y2="499.45" stroke="#111" stroke-width="1.3" stroke-linecap="butt"/>
<line x1="273.25" y1="474.75" x2="279.25" y2="474.75" stroke="#111" stroke-width="1.3" stroke-linecap="butt"/>
<line x1="273.25" y1="499.45" x2="279.25" y2="499.45" stroke="#111" stroke-width="1.3" stroke-linecap="butt"/>
<line x1="295.00" y1="473.10" x2="295.00" y2="497.90" stroke="#111" stroke-width="1.3" stroke-linecap="butt"/>
<line x1="292.00" y1="473.10" x2="298.00" y2="473.10" stroke="#111" stroke-width="1.3" stroke-linecap="butt"/>
<line x1="292.00" y1="497.90" x2="298.00" y2="497.90" stroke="#111" stroke-width="1.3" stroke-linecap="butt"/>
<line x1="313.75" y1="463.50" x2="313.75" y2="498.50" stroke="#111" stroke-width="1.3" stroke-linecap="butt"/>
<line x1="310.75" y1="463.50" x2="316.75" y2="463.50" stroke="#111" stroke-width="1.3" stroke-linecap="butt"/>
<line x1="310.75" y1="498.50" x2="316.75" y2="498.50" stroke="#111" stroke-width="1.3" stroke-linecap="butt"/>
<line x1="332.50" y1="460.00" x2="332.50" y2="502.00" stroke="#111" stroke-width="1.3" stroke-linecap="butt"/>
<line x1="329.50" y1="460.00" x2="335.50" y2="460.00" stroke="#111" stroke-width="1.3" stroke-linecap="butt"/>
<line x1="329.50" y1="502.00" x2="335.50" y2="502.00" stroke="#111" stroke-width="1.3" stroke-linecap="butt"/>
<line x1="276.25" y1="485.80" x2="276.25" y2="503.00" stroke="#111" stroke-width="1.3" stroke-linecap="butt"/>
<line x1="273.25" y1="485.80" x2="279.25" y2="485.80" stroke="#111" stroke-width="1.3" stroke-linecap="butt"/>
<line x1="273.25" y1="503.00" x2="279.25" y2="503.00" stroke="#111" stroke-width="1.3" stroke-linecap="butt"/>
<line x1="295.00" y1="479.70" x2="295.00" y2="497.50" stroke="#111" stroke-width="1.3" stroke-linecap="butt"/>
<line x1="292.00" y1="479.70" x2="298.00" y2="479.70" stroke="#111" stroke-width="1.3" stroke-linecap="butt"/>
<line x1="292.00" y1="497.50" x2="298.00" y2="497.50" stroke="#111" stroke-width="1.3" stroke-linecap="butt"/>
<line x1="313.75" y1="475.80" x2="313.75" y2="500.60" stroke="#111" stroke-width="1.3" stroke-linecap="butt"/>
<line x1="310.75" y1="475.80" x2="316.75" y2="475.80" stroke="#111" stroke-width="1.3" stroke-linecap="butt"/>
<line x1="310.75" y1="500.60" x2="316.75" y2="500.60" stroke="#111" stroke-width="1.3" stroke-linecap="butt"/>
<line x1="332.50" y1="472.00" x2="332.50" y2="505.00" stroke="#111" stroke-width="1.3" stroke-linecap="butt"/>
<line x1="329.50" y1="472.00" x2="335.50" y2="472.00" stroke="#111" stroke-width="1.3" stroke-linecap="butt"/>
<line x1="329.50" y1="505.00" x2="335.50" y2="505.00" stroke="#111" stroke-width="1.3" stroke-linecap="butt"/>
<line x1="201.25" y1="513.20" x2="201.25" y2="522.20" stroke="#111" stroke-width="1.3" stroke-linecap="butt"/>
<line x1="198.25" y1="513.20" x2="204.25" y2="513.20" stroke="#111" stroke-width="1.3" stroke-linecap="butt"/>
<line x1="198.25" y1="522.20" x2="204.25" y2="522.20" stroke="#111" stroke-width="1.3" stroke-linecap="butt"/>
<line x1="220.00" y1="496.50" x2="220.00" y2="522.20" stroke="#111" stroke-width="1.3" stroke-linecap="butt"/>
<line x1="217.00" y1="496.50" x2="223.00" y2="496.50" stroke="#111" stroke-width="1.3" stroke-linecap="butt"/>
<line x1="217.00" y1="522.20" x2="223.00" y2="522.20" stroke="#111" stroke-width="1.3" stroke-linecap="butt"/>
<line x1="238.75" y1="496.50" x2="238.75" y2="522.20" stroke="#111" stroke-width="1.3" stroke-linecap="butt"/>
<line x1="235.75" y1="496.50" x2="241.75" y2="496.50" stroke="#111" stroke-width="1.3" stroke-linecap="butt"/>
<line x1="235.75" y1="522.20" x2="241.75" y2="522.20" stroke="#111" stroke-width="1.3" stroke-linecap="butt"/>
<line x1="276.25" y1="508.90" x2="276.25" y2="518.80" stroke="#111" stroke-width="1.3" stroke-linecap="butt"/>
<line x1="273.25" y1="508.90" x2="279.25" y2="508.90" stroke="#111" stroke-width="1.3" stroke-linecap="butt"/>
<line x1="273.25" y1="518.80" x2="279.25" y2="518.80" stroke="#111" stroke-width="1.3" stroke-linecap="butt"/>
<line x1="295.00" y1="500.00" x2="295.00" y2="527.40" stroke="#111" stroke-width="1.3" stroke-linecap="butt"/>
<line x1="292.00" y1="500.00" x2="298.00" y2="500.00" stroke="#111" stroke-width="1.3" stroke-linecap="butt"/>
<line x1="292.00" y1="527.40" x2="298.00" y2="527.40" stroke="#111" stroke-width="1.3" stroke-linecap="butt"/>
<line x1="313.75" y1="500.00" x2="313.75" y2="527.40" stroke="#111" stroke-width="1.3" stroke-linecap="butt"/>
<line x1="310.75" y1="500.00" x2="316.75" y2="500.00" stroke="#111" stroke-width="1.3" stroke-linecap="butt"/>
<line x1="310.75" y1="527.40" x2="316.75" y2="527.40" stroke="#111" stroke-width="1.3" stroke-linecap="butt"/>
<line x1="332.50" y1="500.00" x2="332.50" y2="527.40" stroke="#111" stroke-width="1.3" stroke-linecap="butt"/>
<line x1="329.50" y1="500.00" x2="335.50" y2="500.00" stroke="#111" stroke-width="1.3" stroke-linecap="butt"/>
<line x1="329.50" y1="527.40" x2="335.50" y2="527.40" stroke="#111" stroke-width="1.3" stroke-linecap="butt"/>
<polygon points="107.50,523.90 112.10,528.50 107.50,533.10 102.90,528.50" fill="#fff" stroke="#000" stroke-width="1.3"/>
<polygon points="126.25,523.90 130.85,528.50 126.25,533.10 121.65,528.50" fill="#fff" stroke="#000" stroke-width="1.3"/>
<polygon points="145.00,511.50 149.60,516.10 145.00,520.70 140.40,516.10" fill="#fff" stroke="#000" stroke-width="1.3"/>
<polygon points="163.75,503.20 168.35,507.80 163.75,512.40 159.15,507.80" fill="#fff" stroke="#000" stroke-width="1.3"/>
<polygon points="182.50,480.50 187.10,485.10 182.50,489.70 177.90,485.10" fill="#fff" stroke="#000" stroke-width="1.3"/>
<polygon points="201.25,454.30 205.85,458.90 201.25,463.50 196.65,458.90" fill="#fff" stroke="#000" stroke-width="1.3"/>
<polygon points="220.00,430.90 224.60,435.50 220.00,440.10 215.40,435.50" fill="#fff" stroke="#000" stroke-width="1.3"/>
<polygon points="238.75,410.80 243.35,415.40 238.75,420.00 234.15,415.40" fill="#fff" stroke="#000" stroke-width="1.3"/>
<polygon points="257.50,397.30 262.10,401.90 257.50,406.50 252.90,401.90" fill="#fff" stroke="#000" stroke-width="1.3"/>
<polygon points="276.25,397.30 280.85,401.90 276.25,406.50 271.65,401.90" fill="#fff" stroke="#000" stroke-width="1.3"/>
<polygon points="295.00,373.20 299.60,377.80 295.00,382.40 290.40,377.80" fill="#fff" stroke="#000" stroke-width="1.3"/>
<polygon points="313.75,349.80 318.35,354.40 313.75,359.00 309.15,354.40" fill="#fff" stroke="#000" stroke-width="1.3"/>
<polygon points="332.50,344.20 337.10,348.80 332.50,353.40 327.90,348.80" fill="#fff" stroke="#000" stroke-width="1.3"/>
<circle cx="107.50" cy="528.50" r="4.6" fill="#858585" stroke="#000" stroke-width="1.1"/>
<circle cx="126.25" cy="528.50" r="4.6" fill="#858585" stroke="#000" stroke-width="1.1"/>
<circle cx="145.00" cy="528.50" r="4.6" fill="#858585" stroke="#000" stroke-width="1.1"/>
<circle cx="163.75" cy="515.50" r="4.6" fill="#858585" stroke="#000" stroke-width="1.1"/>
<circle cx="182.50" cy="495.50" r="4.6" fill="#858585" stroke="#000" stroke-width="1.1"/>
<circle cx="201.25" cy="495.50" r="4.6" fill="#858585" stroke="#000" stroke-width="1.1"/>
<circle cx="220.00" cy="475.80" r="4.6" fill="#858585" stroke="#000" stroke-width="1.1"/>
<circle cx="238.75" cy="456.70" r="4.6" fill="#858585" stroke="#000" stroke-width="1.1"/>
<circle cx="257.50" cy="450.00" r="4.6" fill="#858585" stroke="#000" stroke-width="1.1"/>
<circle cx="276.25" cy="436.90" r="4.6" fill="#858585" stroke="#000" stroke-width="1.1"/>
<circle cx="295.00" cy="430.50" r="4.6" fill="#858585" stroke="#000" stroke-width="1.1"/>
<circle cx="313.75" cy="397.80" r="4.6" fill="#858585" stroke="#000" stroke-width="1.1"/>
<circle cx="332.50" cy="392.20" r="4.6" fill="#858585" stroke="#000" stroke-width="1.1"/>
<polygon points="107.50,523.90 112.50,533.10 102.50,533.10" fill="#f2f2f2" stroke="#000" stroke-width="1.3" stroke-linejoin="miter"/>
<polygon points="126.25,523.90 131.25,533.10 121.25,533.10" fill="#f2f2f2" stroke="#000" stroke-width="1.3" stroke-linejoin="miter"/>
<polygon points="145.00,523.90 150.00,533.10 140.00,533.10" fill="#f2f2f2" stroke="#000" stroke-width="1.3" stroke-linejoin="miter"/>
<polygon points="163.75,523.90 168.75,533.10 158.75,533.10" fill="#f2f2f2" stroke="#000" stroke-width="1.3" stroke-linejoin="miter"/>
<polygon points="182.50,523.90 187.50,533.10 177.50,533.10" fill="#f2f2f2" stroke="#000" stroke-width="1.3" stroke-linejoin="miter"/>
<polygon points="201.25,523.90 206.25,533.10 196.25,533.10" fill="#f2f2f2" stroke="#000" stroke-width="1.3" stroke-linejoin="miter"/>
<polygon points="220.00,517.40 225.00,526.60 215.00,526.60" fill="#f2f2f2" stroke="#000" stroke-width="1.3" stroke-linejoin="miter"/>
<polygon points="238.75,501.90 243.75,511.10 233.75,511.10" fill="#f2f2f2" stroke="#000" stroke-width="1.3" stroke-linejoin="miter"/>
<polygon points="257.50,494.90 262.50,504.10 252.50,504.10" fill="#f2f2f2" stroke="#000" stroke-width="1.3" stroke-linejoin="miter"/>
<polygon points="276.25,482.50 281.25,491.70 271.25,491.70" fill="#f2f2f2" stroke="#000" stroke-width="1.3" stroke-linejoin="miter"/>
<polygon points="295.00,480.90 300.00,490.10 290.00,490.10" fill="#f2f2f2" stroke="#000" stroke-width="1.3" stroke-linejoin="miter"/>
<polygon points="313.75,476.40 318.75,485.60 308.75,485.60" fill="#f2f2f2" stroke="#000" stroke-width="1.3" stroke-linejoin="miter"/>
<polygon points="332.50,476.40 337.50,485.60 327.50,485.60" fill="#f2f2f2" stroke="#000" stroke-width="1.3" stroke-linejoin="miter"/>
<rect x="103.00" y="524.00" width="9.00" height="9.00" fill="#e8e8e8" stroke="#222" stroke-width="1.3"/>
<rect x="121.75" y="524.00" width="9.00" height="9.00" fill="#e8e8e8" stroke="#222" stroke-width="1.3"/>
<rect x="140.50" y="524.00" width="9.00" height="9.00" fill="#e8e8e8" stroke="#222" stroke-width="1.3"/>
<rect x="159.25" y="524.00" width="9.00" height="9.00" fill="#e8e8e8" stroke="#222" stroke-width="1.3"/>
<rect x="178.00" y="524.00" width="9.00" height="9.00" fill="#e8e8e8" stroke="#222" stroke-width="1.3"/>
<rect x="196.75" y="524.00" width="9.00" height="9.00" fill="#e8e8e8" stroke="#222" stroke-width="1.3"/>
<rect x="215.50" y="510.00" width="9.00" height="9.00" fill="#e8e8e8" stroke="#222" stroke-width="1.3"/>
<rect x="234.25" y="510.50" width="9.00" height="9.00" fill="#e8e8e8" stroke="#222" stroke-width="1.3"/>
<rect x="253.00" y="497.10" width="9.00" height="9.00" fill="#e8e8e8" stroke="#222" stroke-width="1.3"/>
<rect x="271.75" y="489.90" width="9.00" height="9.00" fill="#e8e8e8" stroke="#222" stroke-width="1.3"/>
<rect x="290.50" y="484.10" width="9.00" height="9.00" fill="#e8e8e8" stroke="#222" stroke-width="1.3"/>
<rect x="309.25" y="483.70" width="9.00" height="9.00" fill="#e8e8e8" stroke="#222" stroke-width="1.3"/>
<rect x="328.00" y="484.00" width="9.00" height="9.00" fill="#e8e8e8" stroke="#222" stroke-width="1.3"/>
<polygon points="257.50,494.90 262.50,504.10 252.50,504.10" fill="#f2f2f2" stroke="#000" stroke-width="1.3" stroke-linejoin="miter"/>
<polygon points="295.00,480.90 300.00,490.10 290.00,490.10" fill="#f2f2f2" stroke="#000" stroke-width="1.3" stroke-linejoin="miter"/>
<circle cx="107.50" cy="528.50" r="4.9" fill="#000" stroke="#000" stroke-width="1.1"/>
<circle cx="126.25" cy="528.50" r="4.9" fill="#000" stroke="#000" stroke-width="1.1"/>
<circle cx="145.00" cy="528.50" r="4.9" fill="#000" stroke="#000" stroke-width="1.1"/>
<circle cx="163.75" cy="528.50" r="4.9" fill="#000" stroke="#000" stroke-width="1.1"/>
<circle cx="182.50" cy="528.50" r="4.9" fill="#000" stroke="#000" stroke-width="1.1"/>
<circle cx="201.25" cy="522.20" r="4.9" fill="#000" stroke="#000" stroke-width="1.1"/>
<circle cx="220.00" cy="522.20" r="4.9" fill="#000" stroke="#000" stroke-width="1.1"/>
<circle cx="238.75" cy="522.20" r="4.9" fill="#000" stroke="#000" stroke-width="1.1"/>
<circle cx="257.50" cy="521.50" r="4.9" fill="#000" stroke="#000" stroke-width="1.1"/>
<circle cx="276.25" cy="518.80" r="4.9" fill="#000" stroke="#000" stroke-width="1.1"/>
<circle cx="295.00" cy="513.70" r="4.9" fill="#000" stroke="#000" stroke-width="1.1"/>
<circle cx="313.75" cy="513.70" r="4.9" fill="#000" stroke="#000" stroke-width="1.1"/>
<circle cx="332.50" cy="513.70" r="4.9" fill="#000" stroke="#000" stroke-width="1.1"/>
<polygon points="70.00,519.4 74.50,527 65.50,527" fill="#fff" stroke="#000" stroke-width="1.2"/>
<rect x="65.00" y="523.1" width="10" height="9.7" fill="#000"/>
<polygon points="107.50,519.4 112.00,527 103.00,527" fill="#fff" stroke="#000" stroke-width="1.2"/>
<rect x="102.50" y="523.1" width="10" height="9.7" fill="#000"/>
<polygon points="126.25,519.4 130.75,527 121.75,527" fill="#fff" stroke="#000" stroke-width="1.2"/>
<rect x="121.25" y="523.1" width="10" height="9.7" fill="#000"/>
<polygon points="145.00,519.4 149.50,527 140.50,527" fill="#fff" stroke="#000" stroke-width="1.2"/>
<rect x="140.00" y="523.1" width="10" height="9.7" fill="#000"/>
<polygon points="163.75,519.4 168.25,527 159.25,527" fill="#fff" stroke="#000" stroke-width="1.2"/>
<rect x="158.75" y="523.1" width="10" height="9.7" fill="#000"/>
<polygon points="182.50,519.4 187.00,527 178.00,527" fill="#fff" stroke="#000" stroke-width="1.2"/>
<rect x="177.50" y="523.1" width="10" height="9.7" fill="#000"/>
<polyline points="349.60,390.80 355.70,390.80 355.70,513.70 349.60,513.70" fill="none" stroke="#111" stroke-width="1.3" stroke-linejoin="miter"/>
<polyline points="357.30,390.80 363.60,390.80 363.60,513.70 357.30,513.70" fill="none" stroke="#666" stroke-width="1.5" stroke-linejoin="miter"/>
<polyline points="365.30,390.80 371.30,390.80 371.30,513.70 365.30,513.70" fill="none" stroke="#111" stroke-width="1.3" stroke-linejoin="miter"/>
<line x1="349.60" y1="478.80" x2="355.70" y2="478.80" stroke="#000" stroke-width="1.1" stroke-linecap="butt"/>
<line x1="349.60" y1="481.30" x2="355.70" y2="481.30" stroke="#000" stroke-width="1.1" stroke-linecap="butt"/>
<line x1="357.30" y1="488.90" x2="363.60" y2="488.90" stroke="#555" stroke-width="2.4" stroke-linecap="butt"/>
<path d="M359.07,436.92L359.46,433.81L358.14,433.81L358.53,436.92ZM358.88,437.18L361.95,436.58L361.55,435.33L358.72,436.65ZM358.88,436.65L356.05,435.33L355.65,436.58L358.72,437.18ZM358.58,437.08L360.09,439.81L361.16,439.04L359.02,436.75ZM358.58,436.75L356.44,439.04L357.51,439.81L359.02,437.08Z" fill="#000" stroke="#000" stroke-width="0.4" stroke-linejoin="round"/>
<path d="M367.47,436.92L367.86,433.81L366.54,433.81L366.93,436.92ZM367.28,437.18L370.35,436.58L369.95,435.33L367.12,436.65ZM367.28,436.65L364.45,435.33L364.05,436.58L367.12,437.18ZM366.98,437.08L368.49,439.81L369.56,439.04L367.42,436.75ZM366.98,436.75L364.84,439.04L365.91,439.81L367.42,437.08Z" fill="#000" stroke="#000" stroke-width="0.4" stroke-linejoin="round"/>
<path d="M375.67,436.92L376.06,433.81L374.74,433.81L375.12,436.92ZM375.48,437.18L378.55,436.58L378.15,435.33L375.32,436.65ZM375.48,436.65L372.65,435.33L372.25,436.58L375.32,437.18ZM375.18,437.08L376.69,439.81L377.76,439.04L375.62,436.75ZM375.18,436.75L373.04,439.04L374.11,439.81L375.62,437.08Z" fill="#000" stroke="#000" stroke-width="0.4" stroke-linejoin="round"/>
<path d="M359.07,499.62L359.46,496.51L358.14,496.51L358.53,499.62ZM358.88,499.88L361.95,499.28L361.55,498.03L358.72,499.35ZM358.88,499.35L356.05,498.03L355.65,499.28L358.72,499.88ZM358.58,499.78L360.09,502.51L361.16,501.74L359.02,499.45ZM358.58,499.45L356.44,501.74L357.51,502.51L359.02,499.78Z" fill="#000" stroke="#000" stroke-width="0.4" stroke-linejoin="round"/>
<path d="M367.47,499.62L367.86,496.51L366.54,496.51L366.93,499.62ZM367.28,499.88L370.35,499.28L369.95,498.03L367.12,499.35ZM367.28,499.35L364.45,498.03L364.05,499.28L367.12,499.88ZM366.98,499.78L368.49,502.51L369.56,501.74L367.42,499.45ZM366.98,499.45L364.84,501.74L365.91,502.51L367.42,499.78Z" fill="#000" stroke="#000" stroke-width="0.4" stroke-linejoin="round"/>
<text transform="translate(443.60,16.30)" font-size="19.5" font-weight="bold" text-anchor="start">C</text>
<line x1="521.00" y1="31.50" x2="521.00" y2="222.30" stroke="#000" stroke-width="1.5" stroke-linecap="butt"/>
<line x1="518.50" y1="31.50" x2="521.00" y2="31.50" stroke="#000" stroke-width="1.3" stroke-linecap="butt"/>
<line x1="518.00" y1="221.50" x2="521.00" y2="221.50" stroke="#000" stroke-width="1.3" stroke-linecap="butt"/>
<line x1="518.00" y1="194.53" x2="521.00" y2="194.53" stroke="#000" stroke-width="1.3" stroke-linecap="butt"/>
<line x1="518.00" y1="167.57" x2="521.00" y2="167.57" stroke="#000" stroke-width="1.3" stroke-linecap="butt"/>
<line x1="518.00" y1="140.60" x2="521.00" y2="140.60" stroke="#000" stroke-width="1.3" stroke-linecap="butt"/>
<line x1="518.00" y1="113.63" x2="521.00" y2="113.63" stroke="#000" stroke-width="1.3" stroke-linecap="butt"/>
<line x1="518.00" y1="86.67" x2="521.00" y2="86.67" stroke="#000" stroke-width="1.3" stroke-linecap="butt"/>
<line x1="518.00" y1="59.70" x2="521.00" y2="59.70" stroke="#000" stroke-width="1.3" stroke-linecap="butt"/>
<text transform="translate(484.70,65.30)" font-size="17.5" font-weight="normal" text-anchor="start">120</text>
<text transform="translate(494.70,120.05)" font-size="17.5" font-weight="normal" text-anchor="start">80</text>
<text transform="translate(494.70,173.80)" font-size="17.5" font-weight="normal" text-anchor="start">40</text>
<text transform="translate(504.70,222.45)" font-size="17.5" font-weight="normal" text-anchor="start">0</text>
<line x1="520.30" y1="221.50" x2="631.10" y2="221.50" stroke="#000" stroke-width="1.5" stroke-linecap="butt"/>
<line x1="521.00" y1="221.50" x2="521.00" y2="226.80" stroke="#000" stroke-width="1.5" stroke-linecap="butt"/>
<line x1="547.60" y1="221.50" x2="547.60" y2="226.80" stroke="#000" stroke-width="1.5" stroke-linecap="butt"/>
<line x1="575.30" y1="221.50" x2="575.30" y2="226.80" stroke="#000" stroke-width="1.5" stroke-linecap="butt"/>
<line x1="602.90" y1="221.50" x2="602.90" y2="226.80" stroke="#000" stroke-width="1.5" stroke-linecap="butt"/>
<line x1="630.40" y1="221.50" x2="630.40" y2="226.80" stroke="#000" stroke-width="1.5" stroke-linecap="butt"/>
<text transform="translate(566.75,40.95)" font-size="18" font-weight="bold" text-anchor="start">MMP1</text>
<line x1="534.60" y1="54.20" x2="534.60" y2="86.40" stroke="#222" stroke-width="1.3" stroke-linecap="butt"/>
<line x1="530.80" y1="54.20" x2="538.40" y2="54.20" stroke="#222" stroke-width="1.3" stroke-linecap="butt"/>
<rect x="526.90" y="87.00" width="15.40" height="134.50" fill="#ffffff" stroke="#000" stroke-width="1.3"/>
<line x1="561.70" y1="178.40" x2="561.70" y2="183.80" stroke="#222" stroke-width="1.3" stroke-linecap="butt"/>
<line x1="557.90" y1="178.40" x2="565.50" y2="178.40" stroke="#222" stroke-width="1.3" stroke-linecap="butt"/>
<rect x="554.30" y="184.40" width="14.80" height="37.10" fill="#c0c0c0" stroke="#000" stroke-width="1.3"/>
<line x1="589.45" y1="199.40" x2="589.45" y2="202.20" stroke="#222" stroke-width="1.3" stroke-linecap="butt"/>
<line x1="585.65" y1="199.40" x2="593.25" y2="199.40" stroke="#222" stroke-width="1.3" stroke-linecap="butt"/>
<rect x="582.00" y="202.80" width="14.90" height="18.70" fill="#808080" stroke="#000" stroke-width="1.3"/>
<line x1="617.50" y1="204.60" x2="617.50" y2="206.50" stroke="#222" stroke-width="1.3" stroke-linecap="butt"/>
<line x1="613.70" y1="204.60" x2="621.30" y2="204.60" stroke="#222" stroke-width="1.3" stroke-linecap="butt"/>
<rect x="609.60" y="207.10" width="15.80" height="14.40" fill="#000000" stroke="#000" stroke-width="1.3"/>
<path d="M589.32,163.87L589.92,159.78L587.88,159.78L588.48,163.87ZM589.03,164.27L593.11,163.58L592.48,161.63L588.77,163.47ZM589.03,163.47L585.32,161.63L584.69,163.58L588.77,164.27ZM588.56,164.12L590.48,167.78L592.13,166.58L589.24,163.62ZM588.56,163.62L585.67,166.58L587.32,167.78L589.24,164.12Z" fill="#000" stroke="#000" stroke-width="0.4" stroke-linejoin="round"/>
<path d="M616.32,169.42L616.92,165.33L614.88,165.33L615.48,169.42ZM616.03,169.82L620.11,169.13L619.48,167.18L615.77,169.02ZM616.03,169.02L612.32,167.18L611.69,169.13L615.77,169.82ZM615.56,169.67L617.48,173.33L619.13,172.13L616.24,169.17ZM615.56,169.17L612.67,172.13L614.32,173.33L616.24,169.67Z" fill="#000" stroke="#000" stroke-width="0.4" stroke-linejoin="round"/>
<line x1="675.60" y1="30.30" x2="675.60" y2="221.30" stroke="#000" stroke-width="1.5" stroke-linecap="butt"/>
<line x1="673.10" y1="30.30" x2="675.60" y2="30.30" stroke="#000" stroke-width="1.3" stroke-linecap="butt"/>
<line x1="672.60" y1="220.50" x2="675.60" y2="220.50" stroke="#000" stroke-width="1.3" stroke-linecap="butt"/>
<line x1="672.60" y1="193.55" x2="675.60" y2="193.55" stroke="#000" stroke-width="1.3" stroke-linecap="butt"/>
<line x1="672.60" y1="166.60" x2="675.60" y2="166.60" stroke="#000" stroke-width="1.3" stroke-linecap="butt"/>
<line x1="672.60" y1="139.65" x2="675.60" y2="139.65" stroke="#000" stroke-width="1.3" stroke-linecap="butt"/>
<line x1="672.60" y1="112.70" x2="675.60" y2="112.70" stroke="#000" stroke-width="1.3" stroke-linecap="butt"/>
<line x1="672.60" y1="85.75" x2="675.60" y2="85.75" stroke="#000" stroke-width="1.3" stroke-linecap="butt"/>
<line x1="672.60" y1="58.80" x2="675.60" y2="58.80" stroke="#000" stroke-width="1.3" stroke-linecap="butt"/>
<text transform="translate(639.20,65.30)" font-size="17.5" font-weight="normal" text-anchor="start">120</text>
<text transform="translate(649.20,119.35)" font-size="17.5" font-weight="normal" text-anchor="start">80</text>
<text transform="translate(649.20,172.65)" font-size="17.5" font-weight="normal" text-anchor="start">40</text>
<text transform="translate(659.20,222.95)" font-size="17.5" font-weight="normal" text-anchor="start">0</text>
<line x1="674.90" y1="220.50" x2="786.40" y2="220.50" stroke="#000" stroke-width="1.5" stroke-linecap="butt"/>
<line x1="676.10" y1="220.50" x2="676.10" y2="225.80" stroke="#000" stroke-width="1.5" stroke-linecap="butt"/>
<line x1="703.40" y1="220.50" x2="703.40" y2="225.80" stroke="#000" stroke-width="1.5" stroke-linecap="butt"/>
<line x1="730.90" y1="220.50" x2="730.90" y2="225.80" stroke="#000" stroke-width="1.5" stroke-linecap="butt"/>
<line x1="758.00" y1="220.50" x2="758.00" y2="225.80" stroke="#000" stroke-width="1.5" stroke-linecap="butt"/>
<line x1="785.70" y1="220.50" x2="785.70" y2="225.80" stroke="#000" stroke-width="1.5" stroke-linecap="butt"/>
<text transform="translate(727.10,40.60)" font-size="18" font-weight="bold" text-anchor="start">CCL2</text>
<line x1="689.65" y1="55.60" x2="689.65" y2="85.70" stroke="#222" stroke-width="1.3" stroke-linecap="butt"/>
<line x1="685.85" y1="55.60" x2="693.45" y2="55.60" stroke="#222" stroke-width="1.3" stroke-linecap="butt"/>
<rect x="681.60" y="86.30" width="16.10" height="134.20" fill="#ffffff" stroke="#000" stroke-width="1.3"/>
<line x1="717.15" y1="203.40" x2="717.15" y2="206.20" stroke="#222" stroke-width="1.3" stroke-linecap="butt"/>
<line x1="713.35" y1="203.40" x2="720.95" y2="203.40" stroke="#222" stroke-width="1.3" stroke-linecap="butt"/>
<rect x="709.30" y="206.80" width="15.70" height="13.70" fill="#c0c0c0" stroke="#000" stroke-width="1.3"/>
<line x1="744.90" y1="205.60" x2="744.90" y2="208.25" stroke="#222" stroke-width="1.3" stroke-linecap="butt"/>
<line x1="741.10" y1="205.60" x2="748.70" y2="205.60" stroke="#222" stroke-width="1.3" stroke-linecap="butt"/>
<rect x="737.10" y="208.85" width="15.60" height="11.65" fill="#808080" stroke="#000" stroke-width="1.3"/>
<line x1="772.42" y1="190.75" x2="772.42" y2="193.40" stroke="#222" stroke-width="1.3" stroke-linecap="butt"/>
<line x1="768.62" y1="190.75" x2="776.22" y2="190.75" stroke="#222" stroke-width="1.3" stroke-linecap="butt"/>
<rect x="764.70" y="194.00" width="15.45" height="26.50" fill="#000000" stroke="#000" stroke-width="1.3"/>
<path d="M716.82,170.17L717.42,166.08L715.38,166.08L715.98,170.17ZM716.53,170.57L720.61,169.88L719.98,167.93L716.27,169.77ZM716.53,169.77L712.82,167.93L712.19,169.88L716.27,170.57ZM716.06,170.42L717.98,174.08L719.63,172.88L716.74,169.92ZM716.06,169.92L713.17,172.88L714.82,174.08L716.74,170.42Z" fill="#000" stroke="#000" stroke-width="0.4" stroke-linejoin="round"/>
<path d="M744.92,172.82L745.52,168.73L743.48,168.73L744.08,172.82ZM744.63,173.22L748.71,172.53L748.08,170.58L744.37,172.42ZM744.63,172.42L740.92,170.58L740.29,172.53L744.37,173.22ZM744.16,173.07L746.08,176.73L747.73,175.53L744.84,172.57ZM744.16,172.57L741.27,175.53L742.92,176.73L744.84,173.07Z" fill="#000" stroke="#000" stroke-width="0.4" stroke-linejoin="round"/>
<path d="M772.42,157.42L773.02,153.33L770.98,153.33L771.58,157.42ZM772.13,157.82L776.21,157.13L775.58,155.18L771.87,157.02ZM772.13,157.02L768.42,155.18L767.79,157.13L771.87,157.82ZM771.66,157.67L773.58,161.33L775.23,160.13L772.34,157.17ZM771.66,157.17L768.77,160.13L770.42,161.33L772.34,157.67Z" fill="#000" stroke="#000" stroke-width="0.4" stroke-linejoin="round"/>
<line x1="519.90" y1="264.60" x2="519.90" y2="453.10" stroke="#000" stroke-width="1.5" stroke-linecap="butt"/>
<line x1="517.40" y1="264.60" x2="519.90" y2="264.60" stroke="#000" stroke-width="1.3" stroke-linecap="butt"/>
<line x1="516.90" y1="452.30" x2="519.90" y2="452.30" stroke="#000" stroke-width="1.3" stroke-linecap="butt"/>
<line x1="516.90" y1="425.45" x2="519.90" y2="425.45" stroke="#000" stroke-width="1.3" stroke-linecap="butt"/>
<line x1="516.90" y1="398.60" x2="519.90" y2="398.60" stroke="#000" stroke-width="1.3" stroke-linecap="butt"/>
<line x1="516.90" y1="371.75" x2="519.90" y2="371.75" stroke="#000" stroke-width="1.3" stroke-linecap="butt"/>
<line x1="516.90" y1="344.90" x2="519.90" y2="344.90" stroke="#000" stroke-width="1.3" stroke-linecap="butt"/>
<line x1="516.90" y1="318.05" x2="519.90" y2="318.05" stroke="#000" stroke-width="1.3" stroke-linecap="butt"/>
<line x1="516.90" y1="291.20" x2="519.90" y2="291.20" stroke="#000" stroke-width="1.3" stroke-linecap="butt"/>
<text transform="translate(483.20,298.35)" font-size="17.5" font-weight="normal" text-anchor="start">120</text>
<text transform="translate(493.20,351.50)" font-size="17.5" font-weight="normal" text-anchor="start">80</text>
<text transform="translate(493.20,405.10)" font-size="17.5" font-weight="normal" text-anchor="start">40</text>
<text transform="translate(503.20,454.00)" font-size="17.5" font-weight="normal" text-anchor="start">0</text>
<line x1="519.20" y1="452.30" x2="630.20" y2="452.30" stroke="#000" stroke-width="1.5" stroke-linecap="butt"/>
<line x1="520.10" y1="452.30" x2="520.10" y2="457.60" stroke="#000" stroke-width="1.5" stroke-linecap="butt"/>
<line x1="547.25" y1="452.30" x2="547.25" y2="457.60" stroke="#000" stroke-width="1.5" stroke-linecap="butt"/>
<line x1="574.90" y1="452.30" x2="574.90" y2="457.60" stroke="#000" stroke-width="1.5" stroke-linecap="butt"/>
<line x1="602.40" y1="452.30" x2="602.40" y2="457.60" stroke="#000" stroke-width="1.5" stroke-linecap="butt"/>
<line x1="629.50" y1="452.30" x2="629.50" y2="457.60" stroke="#000" stroke-width="1.5" stroke-linecap="butt"/>
<text transform="translate(567.80,273.05)" font-size="18" font-weight="bold" text-anchor="start">MMP3</text>
<line x1="533.90" y1="288.25" x2="533.90" y2="317.70" stroke="#222" stroke-width="1.3" stroke-linecap="butt"/>
<line x1="530.10" y1="288.25" x2="537.70" y2="288.25" stroke="#222" stroke-width="1.3" stroke-linecap="butt"/>
<rect x="526.00" y="318.30" width="15.80" height="134.00" fill="#ffffff" stroke="#000" stroke-width="1.3"/>
<line x1="561.08" y1="442.65" x2="561.08" y2="445.10" stroke="#222" stroke-width="1.3" stroke-linecap="butt"/>
<line x1="557.28" y1="442.65" x2="564.88" y2="442.65" stroke="#222" stroke-width="1.3" stroke-linecap="butt"/>
<rect x="553.10" y="445.70" width="15.95" height="6.60" fill="#c0c0c0" stroke="#000" stroke-width="1.3"/>
<line x1="589.08" y1="443.35" x2="589.08" y2="446.15" stroke="#222" stroke-width="1.3" stroke-linecap="butt"/>
<line x1="585.28" y1="443.35" x2="592.88" y2="443.35" stroke="#222" stroke-width="1.3" stroke-linecap="butt"/>
<rect x="581.10" y="446.75" width="15.95" height="5.55" fill="#808080" stroke="#000" stroke-width="1.3"/>
<line x1="616.62" y1="437.40" x2="616.62" y2="440.40" stroke="#222" stroke-width="1.3" stroke-linecap="butt"/>
<line x1="612.83" y1="437.40" x2="620.42" y2="437.40" stroke="#222" stroke-width="1.3" stroke-linecap="butt"/>
<rect x="608.75" y="441.00" width="15.75" height="11.30" fill="#000000" stroke="#000" stroke-width="1.3"/>
<path d="M561.32,409.32L561.92,405.23L559.88,405.23L560.48,409.32ZM561.03,409.72L565.11,409.03L564.48,407.08L560.77,408.92ZM561.03,408.92L557.32,407.08L556.69,409.03L560.77,409.72ZM560.56,409.57L562.48,413.23L564.13,412.03L561.24,409.07ZM560.56,409.07L557.67,412.03L559.32,413.23L561.24,409.57Z" fill="#000" stroke="#000" stroke-width="0.4" stroke-linejoin="round"/>
<path d="M588.82,409.32L589.42,405.23L587.38,405.23L587.98,409.32ZM588.53,409.72L592.61,409.03L591.98,407.08L588.27,408.92ZM588.53,408.92L584.82,407.08L584.19,409.03L588.27,409.72ZM588.06,409.57L589.98,413.23L591.63,412.03L588.74,409.07ZM588.06,409.07L585.17,412.03L586.82,413.23L588.74,409.57Z" fill="#000" stroke="#000" stroke-width="0.4" stroke-linejoin="round"/>
<path d="M615.92,405.27L616.52,401.18L614.48,401.18L615.08,405.27ZM615.63,405.67L619.71,404.98L619.08,403.03L615.37,404.87ZM615.63,404.87L611.92,403.03L611.29,404.98L615.37,405.67ZM615.16,405.52L617.08,409.18L618.73,407.98L615.84,405.02ZM615.16,405.02L612.27,407.98L613.92,409.18L615.84,405.52Z" fill="#000" stroke="#000" stroke-width="0.4" stroke-linejoin="round"/>
<line x1="678.30" y1="263.40" x2="678.30" y2="452.30" stroke="#000" stroke-width="1.5" stroke-linecap="butt"/>
<line x1="675.80" y1="263.40" x2="678.30" y2="263.40" stroke="#000" stroke-width="1.3" stroke-linecap="butt"/>
<line x1="675.30" y1="451.50" x2="678.30" y2="451.50" stroke="#000" stroke-width="1.3" stroke-linecap="butt"/>
<line x1="675.30" y1="424.63" x2="678.30" y2="424.63" stroke="#000" stroke-width="1.3" stroke-linecap="butt"/>
<line x1="675.30" y1="397.77" x2="678.30" y2="397.77" stroke="#000" stroke-width="1.3" stroke-linecap="butt"/>
<line x1="675.30" y1="370.90" x2="678.30" y2="370.90" stroke="#000" stroke-width="1.3" stroke-linecap="butt"/>
<line x1="675.30" y1="344.03" x2="678.30" y2="344.03" stroke="#000" stroke-width="1.3" stroke-linecap="butt"/>
<line x1="675.30" y1="317.17" x2="678.30" y2="317.17" stroke="#000" stroke-width="1.3" stroke-linecap="butt"/>
<line x1="675.30" y1="290.30" x2="678.30" y2="290.30" stroke="#000" stroke-width="1.3" stroke-linecap="butt"/>
<text transform="translate(641.60,298.20)" font-size="17.5" font-weight="normal" text-anchor="start">120</text>
<text transform="translate(651.60,350.55)" font-size="17.5" font-weight="normal" text-anchor="start">80</text>
<text transform="translate(651.60,404.75)" font-size="17.5" font-weight="normal" text-anchor="start">40</text>
<text transform="translate(661.60,454.35)" font-size="17.5" font-weight="normal" text-anchor="start">0</text>
<line x1="677.60" y1="451.50" x2="789.30" y2="451.50" stroke="#000" stroke-width="1.5" stroke-linecap="butt"/>
<line x1="678.90" y1="451.50" x2="678.90" y2="456.80" stroke="#000" stroke-width="1.5" stroke-linecap="butt"/>
<line x1="706.40" y1="451.50" x2="706.40" y2="456.80" stroke="#000" stroke-width="1.5" stroke-linecap="butt"/>
<line x1="733.50" y1="451.50" x2="733.50" y2="456.80" stroke="#000" stroke-width="1.5" stroke-linecap="butt"/>
<line x1="760.60" y1="451.50" x2="760.60" y2="456.80" stroke="#000" stroke-width="1.5" stroke-linecap="butt"/>
<line x1="788.60" y1="451.50" x2="788.60" y2="456.80" stroke="#000" stroke-width="1.5" stroke-linecap="butt"/>
<text transform="translate(718.75,273.15)" font-size="18" font-weight="bold" text-anchor="start">RANKL</text>
<line x1="692.80" y1="302.00" x2="692.80" y2="317.00" stroke="#222" stroke-width="1.3" stroke-linecap="butt"/>
<line x1="689.00" y1="302.00" x2="696.60" y2="302.00" stroke="#222" stroke-width="1.3" stroke-linecap="butt"/>
<rect x="685.10" y="317.60" width="15.40" height="133.90" fill="#ffffff" stroke="#000" stroke-width="1.3"/>
<line x1="719.77" y1="439.50" x2="719.77" y2="441.60" stroke="#222" stroke-width="1.3" stroke-linecap="butt"/>
<line x1="715.98" y1="439.50" x2="723.57" y2="439.50" stroke="#222" stroke-width="1.3" stroke-linecap="butt"/>
<rect x="711.90" y="442.20" width="15.75" height="9.30" fill="#c0c0c0" stroke="#000" stroke-width="1.3"/>
<line x1="747.50" y1="436.35" x2="747.50" y2="438.30" stroke="#222" stroke-width="1.3" stroke-linecap="butt"/>
<line x1="743.70" y1="436.35" x2="751.30" y2="436.35" stroke="#222" stroke-width="1.3" stroke-linecap="butt"/>
<rect x="739.70" y="438.90" width="15.60" height="12.60" fill="#808080" stroke="#000" stroke-width="1.3"/>
<line x1="775.23" y1="436.35" x2="775.23" y2="438.30" stroke="#222" stroke-width="1.3" stroke-linecap="butt"/>
<line x1="771.43" y1="436.35" x2="779.02" y2="436.35" stroke="#222" stroke-width="1.3" stroke-linecap="butt"/>
<rect x="767.35" y="438.90" width="15.75" height="12.60" fill="#000000" stroke="#000" stroke-width="1.3"/>
<path d="M719.92,402.32L720.52,398.23L718.48,398.23L719.08,402.32ZM719.63,402.72L723.71,402.03L723.08,400.08L719.37,401.92ZM719.63,401.92L715.92,400.08L715.29,402.03L719.37,402.72ZM719.16,402.57L721.08,406.23L722.73,405.03L719.84,402.07ZM719.16,402.07L716.27,405.03L717.92,406.23L719.84,402.57Z" fill="#000" stroke="#000" stroke-width="0.4" stroke-linejoin="round"/>
<path d="M747.42,398.82L748.02,394.73L745.98,394.73L746.58,398.82ZM747.13,399.22L751.21,398.53L750.58,396.58L746.87,398.42ZM747.13,398.42L743.42,396.58L742.79,398.53L746.87,399.22ZM746.66,399.07L748.58,402.73L750.23,401.53L747.34,398.57ZM746.66,398.57L743.77,401.53L745.42,402.73L747.34,399.07Z" fill="#000" stroke="#000" stroke-width="0.4" stroke-linejoin="round"/>
<path d="M775.42,398.82L776.02,394.73L773.98,394.73L774.58,398.82ZM775.13,399.22L779.21,398.53L778.58,396.58L774.87,398.42ZM775.13,398.42L771.42,396.58L770.79,398.53L774.87,399.22ZM774.66,399.07L776.58,402.73L778.23,401.53L775.34,398.57ZM774.66,398.57L771.77,401.53L773.42,402.73L775.34,399.07Z" fill="#000" stroke="#000" stroke-width="0.4" stroke-linejoin="round"/>
<text transform="translate(476.60,198.60) rotate(-90)" font-size="18" font-weight="bold" text-anchor="start">Normalized ratio</text>
<text transform="translate(473.20,431.80) rotate(-90)" font-size="18" font-weight="bold" text-anchor="start">Normalized ratio</text>
<rect x="470.8" y="503.8" width="11.5" height="14.3" fill="#fff" stroke="#000" stroke-width="1.3"/>
<rect x="470.8" y="534.9" width="11.5" height="14.7" fill="#808080" stroke="#000" stroke-width="1.3"/>
<rect x="642.9" y="503.7" width="12.2" height="14.3" fill="#d4d4d4" stroke="#000" stroke-width="1.3"/>
<rect x="642.9" y="534.9" width="12.2" height="14.3" fill="#000" stroke="#000" stroke-width="1.3"/>
<text transform="translate(489.50,518.30)" font-size="18" font-weight="normal" text-anchor="start">Control</text>
<text transform="translate(489.20,549.80)" font-size="18" font-weight="normal" text-anchor="start">2DSHbD1mg/kg</text>
<text transform="translate(663.60,519.60)" font-size="18" font-weight="normal" text-anchor="start">NDSHbD1mg/kg</text>
<text transform="translate(663.20,550.80)" font-size="18" font-weight="normal" text-anchor="start">6DSHbD 1mg/kg</text>
</svg></body></html>
